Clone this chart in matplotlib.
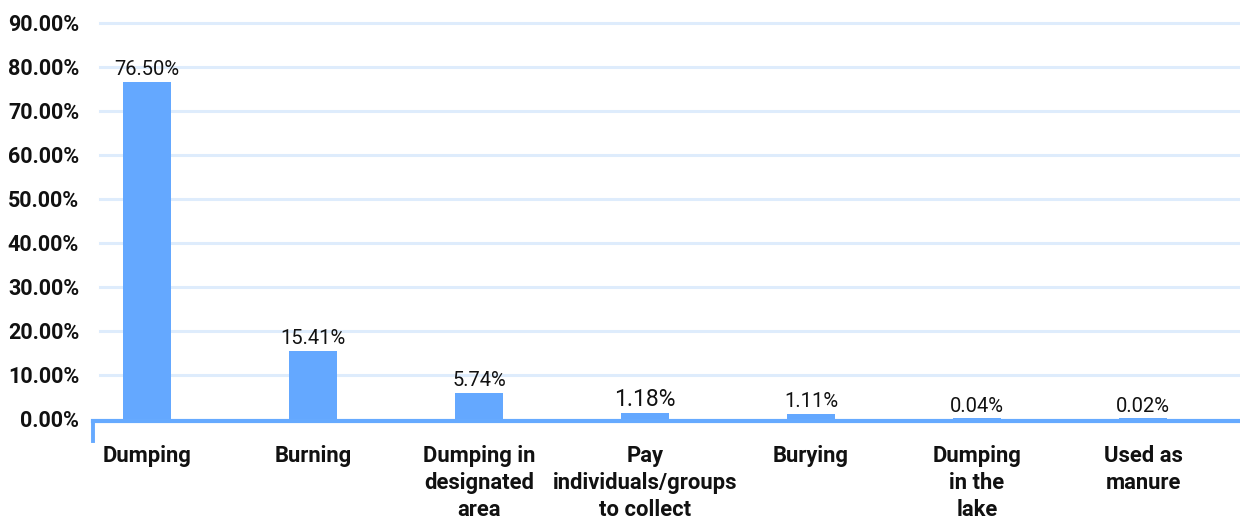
import matplotlib.pyplot as plt
from matplotlib.lines import Line2D

categories = ['Dumping', 'Burning', 'Dumping in\ndesignated\narea',
              'Pay\nindividuals/groups\nto collect', 'Burying',
              'Dumping\nin the\nlake', 'Used as\nmanure']
values = [76.50, 15.41, 5.74, 1.18, 1.11, 0.04, 0.02]
yticks = [0, 10, 20, 30, 40, 50, 60, 70, 80, 90]
label_sizes = [14.5, 14.5, 14.5, 16.5, 14.5, 14.5, 14.5]

plt.rcParams['font.family'] = ['Roboto', 'DejaVu Sans']

W, H = 1240, 518
zero_px, top_px, px10 = 418.5, 8, 44.0
ax_h = zero_px - top_px
fig = plt.figure(figsize=(W / 100, H / 100), dpi=100)
ax = fig.add_axes([93 / W, 1 - zero_px / H, 1 - 93 / W, ax_h / H])

bar_color = '#64a8ff'
x = list(range(len(categories)))
ax.bar(x, values, width=0.29, color=bar_color, zorder=3)

ax.set_xlim(-0.325, 6.584)
ax.set_ylim(0, ax_h / px10 * 10)

for s in ['top', 'right', 'left']:
    ax.spines[s].set_visible(False)
ax.spines['bottom'].set_position(('outward', 2))
ax.spines['bottom'].set_color('#66aaff')
ax.spines['bottom'].set_linewidth(3)
ax.spines['bottom'].set_zorder(4)

ax.set_yticks(yticks)
ax.set_yticklabels([f'{v:.2f}%' for v in yticks], fontsize=15.5, fontweight='semibold')
ax.set_xticks(x)
ax.set_xticklabels(categories, fontsize=15.8, fontweight='semibold', linespacing=1.3, va='top')
ax.tick_params(axis='both', length=0, colors='#111111')
ax.tick_params(axis='y', pad=10)
ax.tick_params(axis='x', pad=17)

for v in yticks[1:]:
    ax.axhline(v, xmin=7 / 1147, color='#deecfc', linewidth=2.2, zorder=1)

ax.add_line(Line2D([0, 0], [-2 / ax_h, -22 / ax_h], transform=ax.transAxes,
                   color='#66aaff', linewidth=2.8, clip_on=False, zorder=4))

for xi, v, fs in zip(x, values, label_sizes):
    ax.annotate(f'{v:.2f}%', (xi, v), xytext=(0, 2), textcoords='offset points',
                ha='center', va='bottom', fontsize=fs, color='#111111')

fig.savefig('out.png', dpi=100)
